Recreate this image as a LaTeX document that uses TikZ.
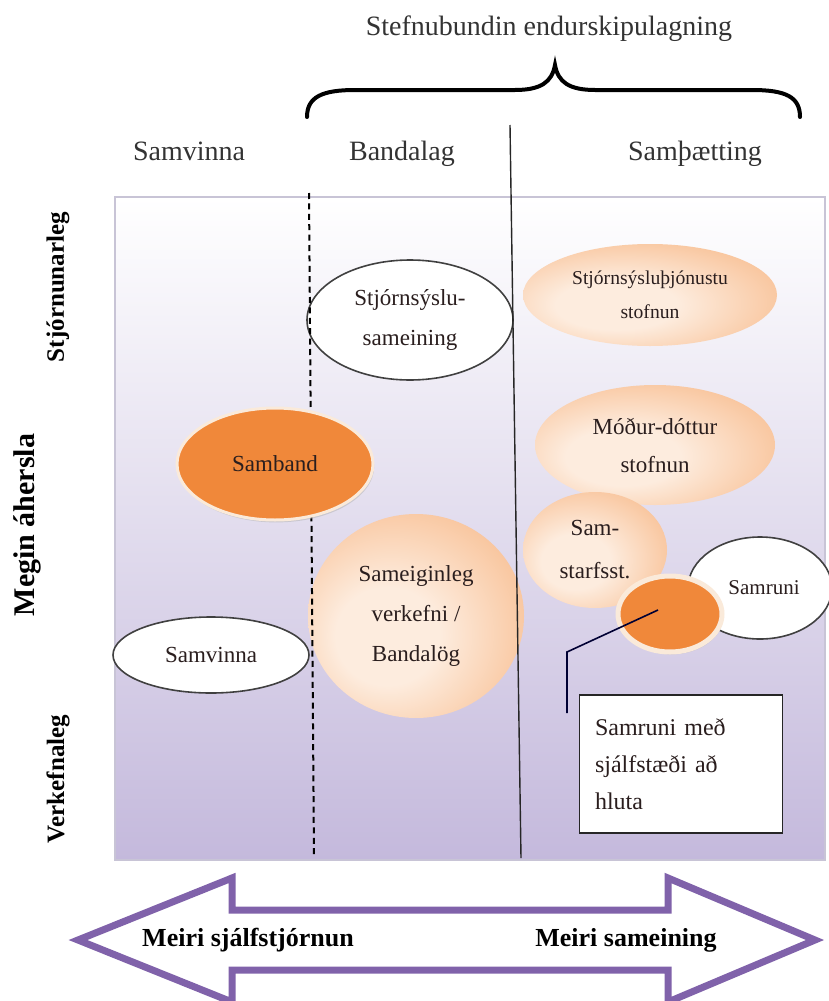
\documentclass[tikz,border=0pt]{standalone}
\usepackage{fontspec}
\setmainfont{Liberation Serif}
\usetikzlibrary{shapes.geometric,shadows}
\definecolor{lavender}{RGB}{196,185,220}
\definecolor{frameline}{RGB}{200,196,214}
\definecolor{peachlight}{RGB}{253,236,222}
\definecolor{peachmid}{RGB}{249,200,162}
\definecolor{peachdark}{RGB}{240,158,96}
\definecolor{sambandorange}{RGB}{240,136,58}
\definecolor{rimcolor}{RGB}{250,234,218}
\definecolor{arrowpurple}{RGB}{128,98,170}
\definecolor{textdark}{RGB}{42,30,30}
\pgfdeclareradialshading{peachshade}{\pgfpoint{-8bp}{-6bp}}{color(0bp)=(peachlight); color(12bp)=(peachlight); color(30bp)=(peachmid); color(48bp)=(peachdark); color(70bp)=(peachdark)}
\begin{document}
\begin{tikzpicture}[x=0.5pt,y=-0.5pt,
  oval/.style={ellipse,inner sep=0pt,align=center,text=textdark,font=\fontsize{11.5}{20}\selectfont},
  whiteoval/.style={oval,draw=black!75,line width=0.8pt,fill=white},
  peachoval/.style={oval,shade,shading=peachshade},
  orangeoval/.style={oval,fill=sambandorange,draw=rimcolor,line width=1.5pt,
    drop shadow={shadow xshift=0.6pt,shadow yshift=-1.2pt,fill=black!30,opacity=0.5}},
  header/.style={anchor=base,text=black!80,font=\fontsize{14}{17}\selectfont},
  sidelabel/.style={rotate=90,font=\bfseries\fontsize{12.5}{15}\selectfont},
  arrowlabel/.style={font=\bfseries\fontsize{13}{16}\selectfont}]
\useasboundingbox (0,0) rectangle (829,1001);

\draw[frameline,line width=1pt,top color=white,middle color=lavender!40!white,bottom color=lavender] (115,197) rectangle (825,860);

\node[header] (title) at (549,35) {Stefnubundin endurskipulagning};
\draw[line width=2pt,line cap=round] (307,117) .. controls (307,97) and (322,90) .. (355,90) -- (515,90) .. controls (541,90) and (552,82) .. (555,65) .. controls (558,82) and (569,90) .. (595,90) -- (752,90) .. controls (786,90) and (800,97) .. (800,117);

\node[header] (hsamvinna) at (189,160) {Samvinna};
\node[header] (hbandalag) at (402,160) {Bandalag};
\node[header] (hsamthaetting) at (695,160) {Samþætting};

\node[sidelabel] (stjornun) at (58,287) {Stjórnunarleg};
\node[sidelabel,font=\bfseries\fontsize{15}{18}\selectfont] (megin) at (27,525) {Megin áhersla};
\node[sidelabel] (verkefna) at (58,779) {Verkefnaleg};

\node[whiteoval,minimum width=103pt,minimum height=60pt] (sameining) at (410,320) {Stjórnsýslu-\\sameining};
\node[whiteoval,minimum width=98pt,minimum height=38pt] (samvinna) at (211,655) {Samvinna};
\node[peachoval,minimum width=127pt,minimum height=51pt,font=\fontsize{9.8}{17}\selectfont] (thjonusta) at (650,295) {Stjórnsýsluþjónustu\\stofnun};
\node[peachoval,minimum width=120pt,minimum height=60pt,font=\fontsize{11.5}{19}\selectfont] (modur) at (655,445) {Móður-dóttur\\stofnun};
\node[peachoval,minimum width=108pt,minimum height=102pt] (sameiginleg) at (416,616) {Sameiginleg\\verkefni /\\Bandalög};
\node[peachoval,minimum width=72pt,minimum height=58pt,font=\fontsize{11.5}{21.5}\selectfont] (samstarf) at (595,550) {Sam-\\starfsst.};
\node[whiteoval,minimum width=72pt,minimum height=51pt,font=\fontsize{10.5}{13}\selectfont] (samruni) at (760,588) {\hspace*{4pt}Samruni};

\draw[dashed,dash pattern=on 3pt off 2.2pt,line width=1pt] (309,193) -- (314,858);
\draw[black!85,line width=0.7pt] (510,125) -- (521,858);

\node[orangeoval,minimum width=98pt,minimum height=56pt] (samband) at (275,464) {Samband};
\node[orangeoval,minimum width=52pt,minimum height=38pt,line width=2.5pt] (smallorange) at (670,614) {};

\coordinate (calloutstart) at (658,610);
\coordinate (calloutknee) at (567,652);
\coordinate (calloutend) at (567,713);
\draw[black!80!blue,line width=0.8pt] (calloutstart) -- (calloutknee) -- (calloutend);
\node[draw=black!85,line width=0.8pt,fill=white,minimum width=101.5pt,minimum height=69pt,text width=86pt,align=left,inner sep=0pt,text=textdark,font=\fontsize{12}{18.5}\selectfont] (callout) at (681,764) {Samruni með\\sjálfstæði að\\hluta};

\draw[arrowpurple,line width=3.5pt,fill=white,line join=miter] (78,940) -- (232,878) -- (232,910) -- (668,910) -- (668,878) -- (815,940) -- (668,1002) -- (668,970) -- (232,970) -- (232,1002) -- cycle;
\node[arrowlabel] (sjalfstjorn) at (248,940) {Meiri sjálfstjórnun};
\node[arrowlabel] (sameiningar) at (626,940) {Meiri sameining};
\end{tikzpicture}
\end{document}
